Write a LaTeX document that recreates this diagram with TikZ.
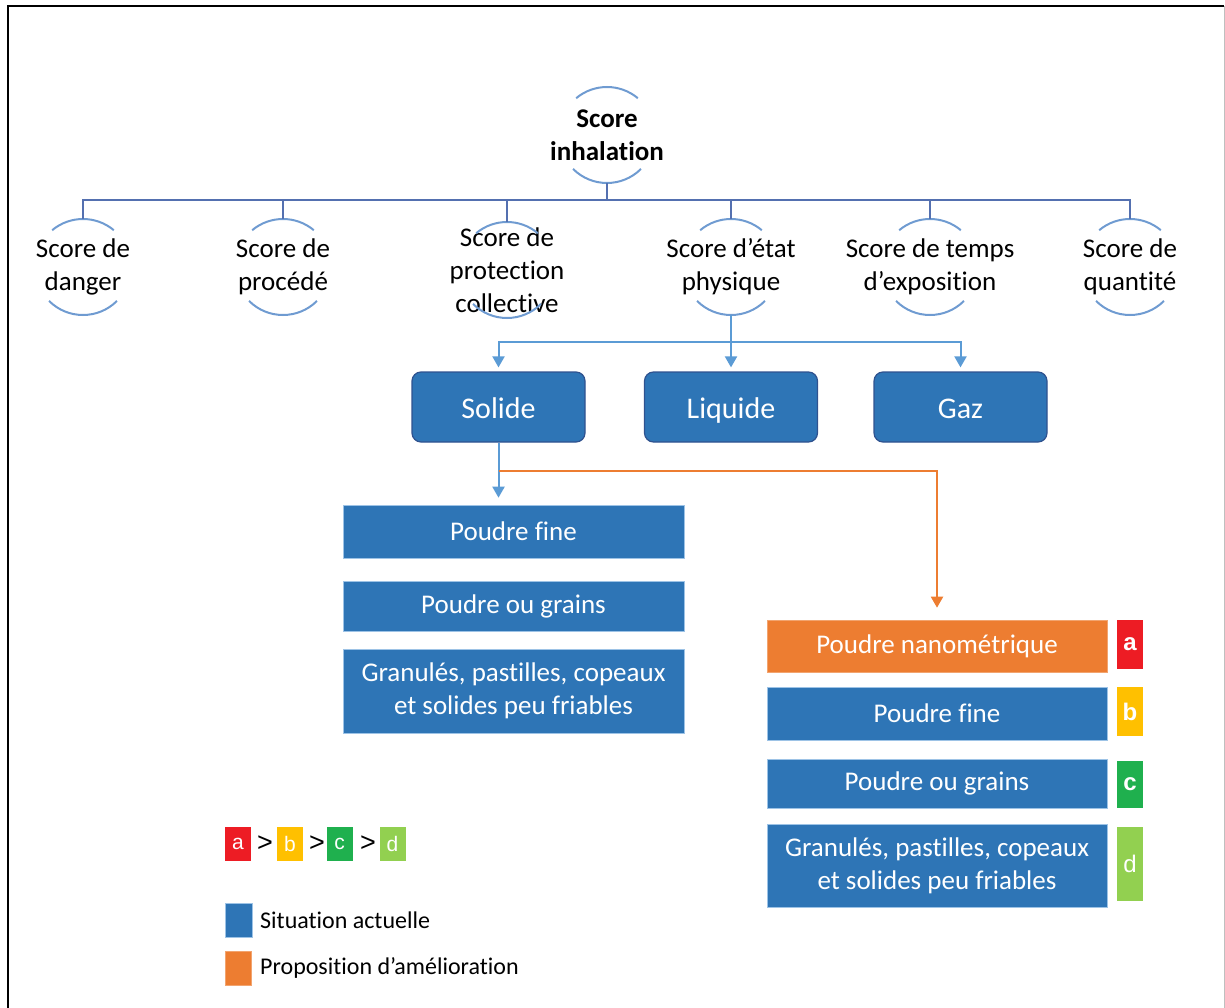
\documentclass[tikz,border=0pt]{standalone}
\usepackage{fontspec}
\setmainfont{Carlito}[Ligatures=NoCommon]
\newfontfamily\arialfont{Liberation Sans}
\usetikzlibrary{arrows.meta,calc}

\definecolor{boxblue}{HTML}{2E75B6}
\definecolor{boxedge}{HTML}{2F528F}
\definecolor{linkblue}{HTML}{5B9BD5}
\definecolor{ringblue}{HTML}{6F9BD1}
\definecolor{busblue}{HTML}{5470B0}
\definecolor{proporange}{HTML}{ED7D31}
\definecolor{rankA}{HTML}{ED1C24}
\definecolor{rankB}{HTML}{FFC000}
\definecolor{rankC}{HTML}{1FB04E}
\definecolor{rankD}{HTML}{92D050}

\tikzset{
  ring/.style={circle, minimum size=96pt, inner sep=0pt, outer sep=0pt},
  ringtext/.style={align=center, font=\fontsize{27}{33}\selectfont},
  ringarc/.style={draw=ringblue, line width=2pt},
  busline/.style={draw=busblue, line width=1.5pt},
  linkline/.style={draw=linkblue, line width=2pt},
  bluearrow/.style={draw=linkblue, line width=2pt, -{Triangle[width=12pt,length=11pt]}},
  orangearrow/.style={draw=proporange, line width=2pt, -{Triangle[width=12pt,length=11pt]}},
  statebox/.style={rounded corners=9pt, fill=boxblue, draw=boxedge, line width=1.2pt,
    minimum width=173pt, minimum height=70pt, text height=22pt, text depth=0pt,
    text=white, font=\fontsize{30}{36}\selectfont},
  formbox/.style={fill=boxblue, draw=linkblue!60, line width=0.6pt, minimum width=341pt,
    inner sep=0pt, text=white, align=center, font=\fontsize{27}{33}\selectfont},
  rankbox/.style={minimum width=26pt, inner sep=0pt, text=white},
  greater/.style={inner sep=0pt, font=\arialfont\fontsize{27}{30}\selectfont},
  legendtext/.style={anchor=west, inner sep=0pt, font=\fontsize{24}{28}\selectfont}
}

\begin{document}
\begin{tikzpicture}[x=1pt, y=1pt]
  \useasboundingbox (0,0) rectangle (1225,-1008);
  % frame
  \draw[line width=2.5pt] (8,-1008) -- (8,-6) -- (1224,-6);
  \draw[black!25, line width=1pt] (1224,-6) -- (1224,-1008);

  % scores
  \node[ring, label={[ringtext]center:\textbf{Score}\\\textbf{inhalation}}] (root) at (607,-135) {};
  \node[ring, label={[ringtext]center:Score de\\danger}] (danger) at (83,-267) {};
  \node[ring, label={[ringtext]center:Score de\\procédé}] (procede) at (283,-267) {};
  \node[ring, label={[ringtext]center:Score de\\protection\\collective}] (protection) at (507,-270) {};
  \node[ring, label={[ringtext]center:Score d’état\\physique}] (etat) at (731,-267) {};
  \node[ring, label={[ringtext]center:Score de temps\\d’exposition}] (temps) at (930,-267) {};
  \node[ring, label={[ringtext]center:Score de\\quantité}] (quantite) at (1130,-267) {};

  \foreach \n in {root,danger,procede,protection,etat,temps,quantite} {
    \draw[ringarc] (\n.50) arc[start angle=50, end angle=130, radius=48pt];
    \draw[ringarc] (\n.225) arc[start angle=225, end angle=315, radius=48pt];
  }

  \coordinate (rootbus) at ($(root.south)+(0,-17)$);
  \draw[busline] (root.south) -- (rootbus);
  \foreach \c in {danger,procede,protection,etat,temps,quantite}
    \draw[busline] (rootbus) -| (\c.north);

  % etats physiques
  \node[statebox] (solide) at (498.5,-407) {Solide};
  \node[statebox] (liquide) at (731,-407) {Liquide};
  \node[statebox] (gaz) at (960.5,-407) {Gaz};

  \coordinate (statebus) at ($(etat.south)+(0,-27)$);
  \draw[linkline] (etat.south) -- (statebus);
  \foreach \s in {solide,liquide,gaz}
    \draw[bluearrow] (statebus) -| ($(\s.north)+(0,4)$);

  % situation actuelle
  \node[formbox, minimum height=53pt] (leftfine) at (513.5,-531.5) {Poudre fine};
  \node[formbox, minimum height=50pt] (leftgrains) at (513.5,-606) {Poudre ou grains};
  \node[formbox, minimum height=84pt] (leftgranules) at (513.5,-691) {Granulés, pastilles, copeaux\\et solides peu friables};

  \draw[bluearrow] (solide.south) -- ($(solide.south |- leftfine.north)+(0,7)$);

  % proposition
  \node[formbox, fill=proporange, draw=proporange!70, minimum width=340pt, minimum height=52pt] (nano) at (937,-646) {Poudre nanométrique};
  \node[formbox, minimum width=340pt, minimum height=53pt] (rightfine) at (937,-713.5) {Poudre fine};
  \node[formbox, minimum width=340pt, minimum height=49pt] (rightgrains) at (937,-783.5) {Poudre ou grains};
  \node[formbox, minimum width=340pt, minimum height=83pt] (rightgranules) at (937,-865.5) {Granulés, pastilles, copeaux\\et solides peu friables};

  \coordinate (split) at ($(solide.south)+(0,-28)$);
  \draw[orangearrow] (split) -| ($(nano.north)+(0,12)$);

  \node[rankbox, fill=rankA, minimum height=49pt, font=\arialfont\bfseries\fontsize{24}{28}\selectfont] (ranka) at (1130,-644.5) {a};
  \node[rankbox, fill=rankB, minimum height=49pt, font=\arialfont\bfseries\fontsize{24}{28}\selectfont] (rankb) at (1130,-711.5) {b};
  \node[rankbox, fill=rankC, minimum height=47pt, font=\arialfont\bfseries\fontsize{24}{28}\selectfont] (rankc) at (1130,-784.5) {c};
  \node[rankbox, fill=rankD, minimum height=74pt, font=\arialfont\fontsize{24}{28}\selectfont] (rankd) at (1130,-864) {d};

  % legende
  \node[rankbox, fill=rankA, minimum height=34pt, font=\arialfont\fontsize{21}{25}\selectfont] (lega) at (238,-844) {a};
  \node[greater] (gt1) at (265,-844) {>};
  \node[rankbox, fill=rankB, minimum height=34pt, font=\arialfont\fontsize{21}{25}\selectfont] (legb) at (290,-844) {b};
  \node[greater] (gt2) at (317,-844) {>};
  \node[rankbox, fill=rankC, minimum height=34pt, font=\arialfont\fontsize{21}{25}\selectfont] (legc) at (339.5,-844) {c};
  \node[greater] (gt3) at (368,-844) {>};
  \node[rankbox, fill=rankD, minimum height=34pt, font=\arialfont\fontsize{21}{25}\selectfont] (legd) at (392.5,-844) {d};

  \node[fill=boxblue, draw=linkblue!60, line width=0.6pt, minimum width=27pt, minimum height=34pt, inner sep=0pt] (legblue) at (238.5,-920) {};
  \node[legendtext] (legbluetext) at (260,-920) {Situation actuelle};
  \node[fill=proporange, draw=proporange!70, line width=0.6pt, minimum width=26pt, minimum height=34pt, inner sep=0pt] (legorange) at (238,-968) {};
  \node[legendtext] (legorangetext) at (260,-968) {Proposition d’amélioration};
\end{tikzpicture}
\end{document}
